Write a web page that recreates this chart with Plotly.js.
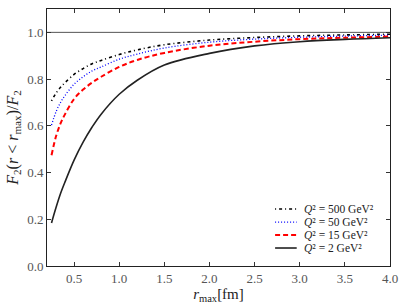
<!DOCTYPE html>
<html><head><meta charset="utf-8">
<script src="https://cdn.plot.ly/plotly-3.0.1.min.js"></script>
<style>html,body{margin:0;padding:0;background:#fff}#g{width:407px;height:305px}</style>
</head><body><div id="g"></div>
<script>
var rmax = [0.25,0.3,0.35,0.4,0.5,0.6,0.7,0.8,1.0,1.2,1.5,2.0,2.5,3.0,3.5,4.0];
var q500 = [0.707,0.74,0.765,0.785,0.82,0.845,0.866,0.88,0.905,0.925,0.947,0.967,0.978,0.985,0.989,0.992];
var q50  = [0.603,0.66,0.70,0.73,0.778,0.81,0.835,0.852,0.885,0.907,0.933,0.958,0.971,0.979,0.984,0.988];
var q15  = [0.474,0.555,0.61,0.65,0.715,0.755,0.785,0.81,0.852,0.882,0.912,0.943,0.96,0.971,0.977,0.982];
var q2   = [0.184,0.25,0.31,0.36,0.453,0.53,0.595,0.65,0.735,0.795,0.86,0.91,0.942,0.96,0.97,0.977];
var names = ['<i>Q</i>² = 500 GeV²','<i>Q</i>² = 50 GeV²','<i>Q</i>² = 15 GeV²','<i>Q</i>² = 2 GeV²'];
var xTicks = [0.5,1.0,1.5,2.0,2.5,3.0,3.5,4.0];
var xTickText = ['0.5','1.0','1.5','2.0','2.5','3.0','3.5','4.0'];
var yTicks = [0,0.2,0.4,0.6,0.8,1.0];
var yTickText = ['0.0','0.2','0.4','0.6','0.8','1.0'];
var ser = [q500,q50,q15,q2];
var styles = [
  {color:'#000000', dash:'1px,3px,3px,3px', width:1.6},
  {color:'#0000ff', dash:'1px,2px', width:1.3},
  {color:'#ff0000', dash:'5px,3px', width:2},
  {color:'#222222', dash:'solid', width:1.6}
];
var ff = '"Liberation Serif","DejaVu Serif",serif';
var traces = [{x:[0.2,4.0], y:[1,1], mode:'lines', line:{color:'#555',width:1}, showlegend:false, hoverinfo:'skip'}];
for (var i=0;i<ser.length;i++){
  traces.push({x:rmax, y:ser[i], mode:'lines', name:names[i], showlegend:false,
    line:{color:styles[i].color, dash:styles[i].dash, width:styles[i].width, shape:'spline'}});
}
// manual compact legend (paper coords)
var legY = [0.222,0.171,0.121,0.070];
var shapes = [], annotations = [];
for (var j=0;j<names.length;j++){
  shapes.push({type:'line', xref:'paper', yref:'paper', x0:0.665, x1:0.728, y0:legY[j], y1:legY[j],
    line:{color:styles[j].color, dash:styles[j].dash, width:styles[j].width}});
  annotations.push({xref:'paper', yref:'paper', x:0.745, y:legY[j], xanchor:'left', yanchor:'middle',
    text:names[j], showarrow:false, borderpad:0, font:{family:ff,size:11.5,color:'#222'}});
}
var layout = {
  width:407, height:305,
  margin:{l:47,r:17,t:9,b:39},
  paper_bgcolor:'#fff', plot_bgcolor:'#fff',
  font:{family:ff,size:12,color:'#333'},
  showlegend:false,
  shapes:shapes, annotations:annotations,
  xaxis:{range:[0.2,4.0], tickvals:xTicks, ticktext:xTickText,
    ticks:'inside', ticklen:4, tickcolor:'#333', mirror:'ticks', showline:true, linecolor:'#222', linewidth:1, showgrid:false, zeroline:false,
    tickfont:{family:ff,size:13,color:'#555'},
    title:{text:'<i>r</i><sub>max</sub>[fm]', font:{family:ff,size:15,color:'#222'}, standoff:2}},
  yaxis:{range:[0,1.1], tickvals:yTicks, ticktext:yTickText,
    ticks:'inside', ticklen:4, tickcolor:'#333', mirror:'ticks', showline:true, linecolor:'#222', linewidth:1, showgrid:false, zeroline:false,
    tickfont:{family:ff,size:13,color:'#555'},
    title:{text:'<i>F</i><sub>2</sub>(<i>r</i> < <i>r</i><sub>max</sub>)/<i>F</i><sub>2</sub>', font:{family:ff,size:16,color:'#222'}, standoff:4}}
};
Plotly.newPlot('g', traces, layout, {staticPlot:true, displayModeBar:false});
</script></body></html>
